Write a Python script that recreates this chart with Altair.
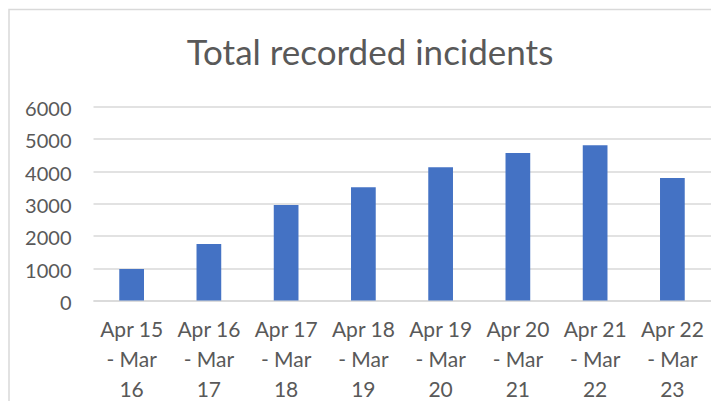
import altair as alt
import pandas as pd

categories = [
    "Apr 15\n- Mar\n16", "Apr 16\n- Mar\n17", "Apr 17\n- Mar\n18", "Apr 18\n- Mar\n19",
    "Apr 19\n- Mar\n20", "Apr 20\n- Mar\n21", "Apr 21\n- Mar\n22", "Apr 22\n- Mar\n23",
]
incidents = [975, 1745, 2950, 3505, 4125, 4560, 4805, 3785]
y_ticks = [0, 1000, 2000, 3000, 4000, 5000, 6000]
title_text = "Total recorded incidents"

df = pd.DataFrame({"period": categories, "incidents": incidents})

FONT = "Lato"
TXT = "#595959"
GRID = "#D9D9D9"

bars = alt.Chart(df).mark_bar(color="#4472C4").encode(
    x=alt.X(
        "period:N",
        sort=categories,
        scale=alt.Scale(paddingInner=0.68, paddingOuter=0.34),
        axis=alt.Axis(
            title=None,
            labelAngle=0,
            labelExpr="split(datum.label, '\\n')",
            labelFont=FONT,
            labelFontSize=21,
            labelColor=TXT,
            labelLineHeight=30,
            labelPadding=19,
            ticks=False,
            domain=True,
            domainColor=GRID,
            domainWidth=1.5,
            labelLimit=200,
        ),
    ),
    y=alt.Y(
        "incidents:Q",
        scale=alt.Scale(domain=[0, 6000], nice=False),
        axis=alt.Axis(
            title=None,
            values=y_ticks,
            format="d",
            labelFont=FONT,
            labelFontSize=20,
            labelColor=TXT,
            labelPadding=22,
            labelBaseline="middle",
            labelOffset=3,
            ticks=False,
            domain=False,
            gridColor=GRID,
            gridWidth=1.5,
        ),
    ),
)

border = alt.Chart(pd.DataFrame({"b": [0]})).mark_rect(
    fill=None, stroke=GRID, strokeWidth=1.5
).encode(
    x=alt.value(-84), x2=alt.value(640), y=alt.value(-97), y2=alt.value(400)
)

chart = alt.layer(border, bars).properties(
    width=618,
    height=194,
    autosize=alt.AutoSizeParams(type="none"),
    padding={"left": 85, "top": 98.5, "right": 0, "bottom": 100},
    title=alt.TitleParams(
        title_text,
        font=FONT,
        fontSize=35,
        fontWeight="normal",
        color=TXT,
        anchor="middle",
        frame="group",
        baseline="alphabetic",
        dx=-32,
        offset=-91,
    ),
).configure_view(stroke=None)

chart.save("out.html", embed_options={"renderer": "svg", "actions": False})
